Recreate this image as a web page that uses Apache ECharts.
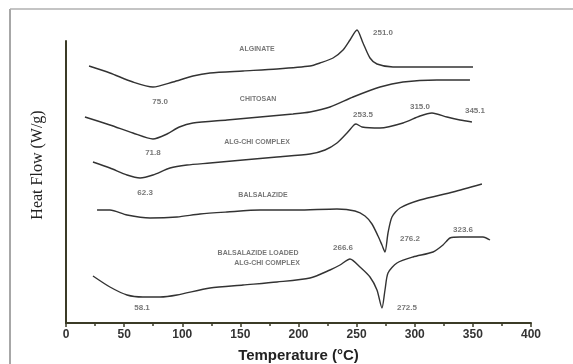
<!DOCTYPE html>
<html>
<head>
<meta charset="utf-8">
<script src="https://cdn.jsdelivr.net/npm/echarts@6/dist/echarts.min.js"></script>
<style>
  html, body { margin: 0; padding: 0; background: #fff; }
  #chart { width: 573px; height: 364px; }
</style>
</head>
<body>
<div id="chart"></div>
<script>
// DSC thermograms: [temperature °C, heat flow (arbitrary offset units)]
const alginate = [
  [19.8, 257], [37.8, 250], [57.6, 241], [74.8, 236], [92.0, 241], [109.2, 247],
  [123.9, 250], [152.3, 252], [181.5, 254], [209.9, 257], [218.5, 260], [229.7, 265],
  [238.3, 273], [244.3, 283], [250.3, 293], [255.5, 280], [261.5, 265], [267.5, 259],
  [281.3, 256], [313.1, 256], [350.1, 256]
];
const chitosan = [
  [16.3, 206], [37.8, 198], [57.6, 190], [74.8, 184], [86.9, 189], [97.5, 196],
  [109.2, 200], [138.5, 203], [166.9, 206], [195.3, 209], [209.9, 211], [227.1, 216],
  [246.9, 226], [270.1, 236], [289.9, 241], [319.1, 243], [347.5, 243]
];
const algChiComplex = [
  [23.2, 161], [37.8, 155], [52.5, 148], [63.7, 145], [74.8, 148], [89.5, 155],
  [104.1, 158], [123.9, 160], [152.3, 163], [181.5, 166], [209.9, 169], [222.8, 173],
  [233.1, 180], [241.7, 190], [247.7, 198], [249.5, 199], [254.6, 196], [270.1, 195],
  [289.9, 200], [304.5, 207], [314.8, 210], [327.7, 206], [338.9, 203], [349.2, 201]
];
const balsalazide = [
  [26.7, 113], [37.8, 113], [52.5, 108], [72.3, 105], [95.5, 106], [115.3, 109],
  [138.5, 111], [166.9, 113], [198.7, 113], [233.1, 114], [248.6, 112], [257.2, 107],
  [263.2, 99], [268.4, 87], [271.8, 78], [274.4, 71], [277.0, 90], [280.4, 106],
  [287.3, 115], [304.5, 123], [332.9, 131], [357.8, 139]
];
const balsalazideLoaded = [
  [23.2, 47], [37.8, 36], [52.5, 28], [66.2, 26], [80.9, 26], [95.5, 28],
  [123.9, 35], [152.3, 38], [181.5, 41], [209.9, 45], [227.1, 53], [235.7, 58],
  [244.3, 64], [252.9, 56], [261.5, 46], [267.5, 33], [271.8, 15], [274.4, 33],
  [277.0, 50], [284.7, 60], [298.5, 66], [315.7, 71], [324.3, 78], [330.3, 85],
  [338.9, 86], [358.7, 86], [364.7, 83]
];

// curve names and peak temperatures, placed in data coordinates
const curveNames = [
  [164.3, 274, 'ALGINATE'],
  [165.2, 224, 'CHITOSAN'],
  [164.3, 181, 'ALG-CHI COMPLEX'],
  [169.5, 128, 'BALSALAZIDE'],
  [165.2, 70, 'BALSALAZIDE LOADED'],
  [172.9, 60, 'ALG-CHI COMPLEX']
];
const peakLabels = [
  [272.7, 290, '251.0'],
  [80.9, 221, '75.0'],
  [74.8, 170, '71.8'],
  [255.5, 208, '253.5'],
  [304.5, 216, '315.0'],
  [351.8, 212, '345.1'],
  [68.0, 130, '62.3'],
  [295.9, 84, '276.2'],
  [238.3, 75, '266.6'],
  [341.5, 93, '323.6'],
  [65.4, 15, '58.1'],
  [293.3, 15, '272.5']
];

const xTicks = { min: 0, max: 400, interval: 50 };

const chart = echarts.init(document.getElementById('chart'));

const curveStyle = {
  type: 'line',
  showSymbol: false,
  smooth: 0.25,
  clip: false,
  lineStyle: { color: '#333', width: 1.4 },
  animation: false
};

const textSeries = (rows, size) => ({
  type: 'scatter',
  symbolSize: 0,
  clip: false,
  animation: false,
  silent: true,
  data: rows.map(r => ({ value: [r[0], r[1]], name: r[2] })),
  label: {
    show: true,
    position: 'inside',
    formatter: p => p.name,
    color: '#555',
    fontSize: size,
    fontWeight: 'bold',
    fontFamily: 'Liberation Sans, Arial, sans-serif'
  }
});

chart.setOption({
  backgroundColor: '#fff',
  animation: false,
  grid: { left: 66, right: 42, top: 41, bottom: 41, outerBoundsMode: 'none', containLabel: false },
  xAxis: {
    type: 'value',
    min: xTicks.min, max: xTicks.max, interval: xTicks.interval,
    name: 'Temperature (°C)',
    nameLocation: 'middle',
    nameGap: 25,
    nameTextStyle: { fontFamily: 'Liberation Sans, Arial, sans-serif', fontWeight: 'bold', fontSize: 15, color: '#222' },
    axisLine: { lineStyle: { color: '#3b3b26', width: 2 } },
    axisTick: { show: true, inside: false, length: 4, lineStyle: { color: '#3b3b26', width: 1.5 } },
    minorTick: { show: true, splitNumber: 2, length: 3, lineStyle: { color: '#3b3b26', width: 1.5 } },
    splitLine: { show: false },
    axisLabel: { margin: 6, color: '#333', fontSize: 12, fontWeight: 'bold', fontFamily: 'Liberation Sans, Arial, sans-serif' }
  },
  yAxis: {
    type: 'value',
    min: 0, max: 282,
    axisLine: { show: true, onZero: false, lineStyle: { color: '#3b3b26', width: 2 } },
    axisTick: { show: false },
    axisLabel: { show: false },
    splitLine: { show: false }
  },
  graphic: [
    { type: 'line', shape: { x1: 10, y1: 9, x2: 10, y2: 364 }, style: { stroke: '#8a8a8a', lineWidth: 1.5 } },
    { type: 'line', shape: { x1: 10, y1: 9, x2: 573, y2: 9 }, style: { stroke: '#b0b0b0', lineWidth: 1.5 } },
    {
      type: 'text', x: 38, y: 165, rotation: Math.PI / 2,
      style: {
        text: 'Heat Flow (W/g)', fill: '#222',
        font: '16px "Liberation Serif", "Times New Roman", serif',
        align: 'center', verticalAlign: 'middle'
      }
    }
  ],
  series: [
    { ...curveStyle, name: 'Alginate', data: alginate },
    { ...curveStyle, name: 'Chitosan', data: chitosan },
    { ...curveStyle, name: 'ALG-CHI complex', data: algChiComplex },
    { ...curveStyle, name: 'Balsalazide', data: balsalazide },
    { ...curveStyle, name: 'Balsalazide loaded ALG-CHI complex', data: balsalazideLoaded },
    textSeries(curveNames, 7),
    textSeries(peakLabels, 8)
  ]
});
</script>
</body>
</html>
